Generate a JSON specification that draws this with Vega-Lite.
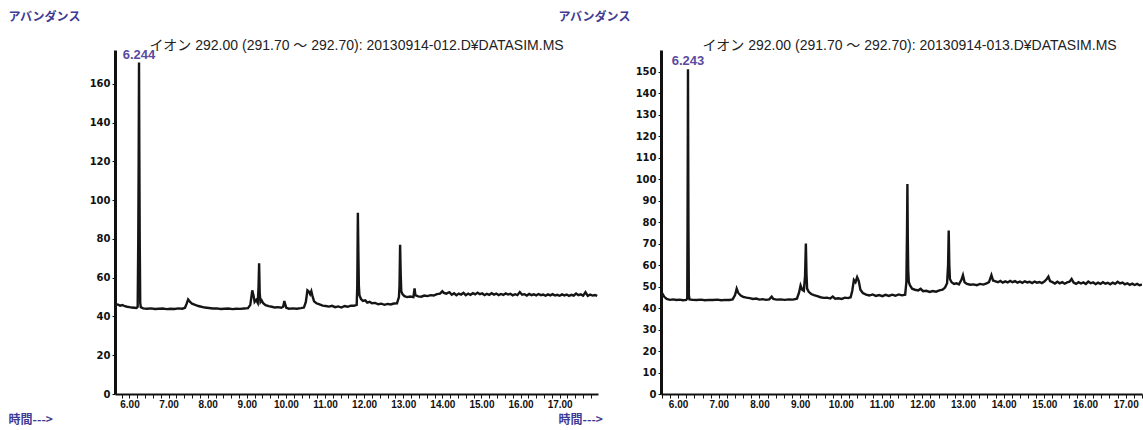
{
  "$schema": "https://vega.github.io/schema/vega-lite/v6.json",
  "padding": {"left": 8, "top": 10, "right": 0, "bottom": 0},
  "bounds": "flush",
  "spacing": 63,
  "background": "white",
  "config": {
    "view": {"stroke": null},
    "font": "Liberation Sans",
    "axis": {
      "grid": false,
      "domainColor": "#111",
      "tickColor": "#111",
      "labelColor": "#111",
      "labelFont": "Liberation Sans",
      "labelFontSize": 10,
      "labelFontWeight": "bold",
      "titleFont": "Noto Sans CJK JP",
      "titleColor": "#3f3a92",
      "titleFontSize": 12,
      "titleFontWeight": "bold"
    },
    "axisY": {"labelFont": "DejaVu Sans", "labelFontSize": 10},
    "title": {
      "font": "'Liberation Sans', 'Noto Sans CJK JP'",
      "fontSize": 14,
      "fontWeight": "normal",
      "color": "#222",
      "offset": -42.5,
      "anchor": "middle",
      "frame": "group"
    }
  },
  "datasets": {
    "left": [
      {"t": 5.64, "v": 45.8}, {"t": 5.70, "v": 46.2}, {"t": 5.76, "v": 45.6}, {"t": 5.82, "v": 45.9},
      {"t": 5.88, "v": 45.3}, {"t": 5.94, "v": 45.0}, {"t": 6.00, "v": 44.8}, {"t": 6.06, "v": 44.6},
      {"t": 6.12, "v": 44.5}, {"t": 6.18, "v": 44.4}, {"t": 6.21, "v": 45.0}, {"t": 6.225, "v": 80},
      {"t": 6.235, "v": 120}, {"t": 6.244, "v": 171}, {"t": 6.252, "v": 125}, {"t": 6.262, "v": 80},
      {"t": 6.275, "v": 47}, {"t": 6.29, "v": 44.8}, {"t": 6.35, "v": 44.2}, {"t": 6.45, "v": 44.0},
      {"t": 6.55, "v": 44.2}, {"t": 6.65, "v": 43.9}, {"t": 6.75, "v": 44.0}, {"t": 6.85, "v": 44.1},
      {"t": 6.95, "v": 43.8}, {"t": 7.05, "v": 44.0}, {"t": 7.15, "v": 43.9}, {"t": 7.25, "v": 44.2},
      {"t": 7.35, "v": 44.0}, {"t": 7.42, "v": 44.5}, {"t": 7.46, "v": 46.5}, {"t": 7.50, "v": 48.8},
      {"t": 7.55, "v": 47.5}, {"t": 7.60, "v": 46.6}, {"t": 7.68, "v": 46.0}, {"t": 7.76, "v": 45.4},
      {"t": 7.84, "v": 45.0}, {"t": 7.93, "v": 44.6}, {"t": 8.03, "v": 44.4}, {"t": 8.13, "v": 44.1},
      {"t": 8.23, "v": 44.2}, {"t": 8.33, "v": 43.9}, {"t": 8.43, "v": 44.0}, {"t": 8.53, "v": 44.1},
      {"t": 8.63, "v": 43.8}, {"t": 8.73, "v": 44.0}, {"t": 8.83, "v": 43.9}, {"t": 8.93, "v": 44.1},
      {"t": 9.03, "v": 44.3}, {"t": 9.09, "v": 46.0}, {"t": 9.14, "v": 53.5}, {"t": 9.17, "v": 51.0},
      {"t": 9.20, "v": 47.5}, {"t": 9.24, "v": 48.5}, {"t": 9.28, "v": 47.0}, {"t": 9.30, "v": 55},
      {"t": 9.315, "v": 67.5}, {"t": 9.33, "v": 52}, {"t": 9.35, "v": 47.5}, {"t": 9.38, "v": 48.3},
      {"t": 9.42, "v": 46.8}, {"t": 9.48, "v": 45.8}, {"t": 9.56, "v": 45.3}, {"t": 9.64, "v": 45.0},
      {"t": 9.72, "v": 44.6}, {"t": 9.80, "v": 44.8}, {"t": 9.88, "v": 44.5}, {"t": 9.93, "v": 45.0},
      {"t": 9.96, "v": 48.0}, {"t": 9.98, "v": 46.5}, {"t": 10.01, "v": 44.5}, {"t": 10.08, "v": 44.0},
      {"t": 10.18, "v": 44.2}, {"t": 10.28, "v": 44.0}, {"t": 10.38, "v": 44.3}, {"t": 10.46, "v": 44.6},
      {"t": 10.51, "v": 47.5}, {"t": 10.55, "v": 53.5}, {"t": 10.59, "v": 52.8}, {"t": 10.62, "v": 51.5},
      {"t": 10.65, "v": 53.0}, {"t": 10.68, "v": 50.5}, {"t": 10.72, "v": 47.8}, {"t": 10.78, "v": 46.8},
      {"t": 10.86, "v": 46.2}, {"t": 10.94, "v": 45.6}, {"t": 11.02, "v": 45.4}, {"t": 11.10, "v": 45.1},
      {"t": 11.18, "v": 45.5}, {"t": 11.26, "v": 44.8}, {"t": 11.34, "v": 45.2}, {"t": 11.42, "v": 44.6},
      {"t": 11.50, "v": 45.4}, {"t": 11.58, "v": 45.0}, {"t": 11.66, "v": 45.6}, {"t": 11.74, "v": 45.5},
      {"t": 11.81, "v": 46.0}, {"t": 11.825, "v": 56}, {"t": 11.84, "v": 93.5}, {"t": 11.855, "v": 70},
      {"t": 11.865, "v": 56}, {"t": 11.88, "v": 51}, {"t": 11.92, "v": 49}, {"t": 11.97, "v": 48},
      {"t": 12.03, "v": 48.3}, {"t": 12.08, "v": 47.2}, {"t": 12.14, "v": 47.6}, {"t": 12.20, "v": 46.8},
      {"t": 12.28, "v": 47.0}, {"t": 12.36, "v": 46.3}, {"t": 12.44, "v": 46.6}, {"t": 12.52, "v": 46.0},
      {"t": 12.60, "v": 46.5}, {"t": 12.68, "v": 46.2}, {"t": 12.76, "v": 46.7}, {"t": 12.84, "v": 46.8},
      {"t": 12.89, "v": 50}, {"t": 12.905, "v": 56}, {"t": 12.92, "v": 77}, {"t": 12.935, "v": 62},
      {"t": 12.95, "v": 53}, {"t": 12.98, "v": 51.5}, {"t": 13.03, "v": 50.5}, {"t": 13.10, "v": 50.0},
      {"t": 13.18, "v": 50.3}, {"t": 13.26, "v": 50.0}, {"t": 13.29, "v": 54.5}, {"t": 13.31, "v": 51.0},
      {"t": 13.38, "v": 50.4}, {"t": 13.46, "v": 50.2}, {"t": 13.54, "v": 50.8}, {"t": 13.62, "v": 50.5},
      {"t": 13.70, "v": 51.0}, {"t": 13.78, "v": 50.8}, {"t": 13.86, "v": 51.5}, {"t": 13.94, "v": 51.8},
      {"t": 14.00, "v": 53.0}, {"t": 14.04, "v": 52.2}, {"t": 14.10, "v": 51.8}, {"t": 14.18, "v": 52.5},
      {"t": 14.24, "v": 51.2}, {"t": 14.30, "v": 52.0}, {"t": 14.36, "v": 51.0}, {"t": 14.42, "v": 51.8},
      {"t": 14.48, "v": 51.3}, {"t": 14.54, "v": 52.2}, {"t": 14.60, "v": 51.0}, {"t": 14.66, "v": 51.8},
      {"t": 14.72, "v": 51.2}, {"t": 14.78, "v": 52.0}, {"t": 14.84, "v": 51.4}, {"t": 14.90, "v": 52.3},
      {"t": 14.96, "v": 51.5}, {"t": 15.02, "v": 51.9}, {"t": 15.08, "v": 51.0}, {"t": 15.14, "v": 51.7},
      {"t": 15.20, "v": 51.2}, {"t": 15.26, "v": 52.0}, {"t": 15.32, "v": 51.3}, {"t": 15.38, "v": 51.8},
      {"t": 15.44, "v": 51.0}, {"t": 15.50, "v": 51.6}, {"t": 15.56, "v": 51.1}, {"t": 15.62, "v": 51.9},
      {"t": 15.68, "v": 51.3}, {"t": 15.74, "v": 51.7}, {"t": 15.80, "v": 50.9}, {"t": 15.86, "v": 51.5},
      {"t": 15.92, "v": 51.0}, {"t": 15.98, "v": 52.6}, {"t": 16.04, "v": 51.2}, {"t": 16.10, "v": 51.5},
      {"t": 16.16, "v": 50.8}, {"t": 16.22, "v": 51.6}, {"t": 16.28, "v": 51.0}, {"t": 16.34, "v": 51.4},
      {"t": 16.40, "v": 50.9}, {"t": 16.46, "v": 51.6}, {"t": 16.52, "v": 51.0}, {"t": 16.58, "v": 51.3},
      {"t": 16.64, "v": 50.7}, {"t": 16.70, "v": 51.4}, {"t": 16.76, "v": 50.9}, {"t": 16.82, "v": 51.5},
      {"t": 16.88, "v": 50.8}, {"t": 16.94, "v": 51.2}, {"t": 17.00, "v": 50.7}, {"t": 17.06, "v": 51.4},
      {"t": 17.12, "v": 50.9}, {"t": 17.18, "v": 51.3}, {"t": 17.24, "v": 50.6}, {"t": 17.30, "v": 51.2},
      {"t": 17.36, "v": 50.8}, {"t": 17.42, "v": 51.8}, {"t": 17.48, "v": 51.0}, {"t": 17.54, "v": 51.4},
      {"t": 17.60, "v": 50.7}, {"t": 17.66, "v": 52.5}, {"t": 17.72, "v": 50.6}, {"t": 17.78, "v": 51.3},
      {"t": 17.84, "v": 50.8}, {"t": 17.90, "v": 51.1}, {"t": 17.96, "v": 50.6}
    ],
    "right": [
      {"t": 5.59, "v": 45.0}, {"t": 5.62, "v": 46.5}, {"t": 5.66, "v": 45.2}, {"t": 5.72, "v": 44.2},
      {"t": 5.80, "v": 43.8}, {"t": 5.88, "v": 44.0}, {"t": 5.96, "v": 43.7}, {"t": 6.04, "v": 43.9},
      {"t": 6.12, "v": 43.6}, {"t": 6.20, "v": 43.8}, {"t": 6.225, "v": 44.5}, {"t": 6.232, "v": 76},
      {"t": 6.238, "v": 113}, {"t": 6.243, "v": 151}, {"t": 6.249, "v": 110}, {"t": 6.255, "v": 76},
      {"t": 6.265, "v": 46}, {"t": 6.28, "v": 44}, {"t": 6.36, "v": 43.8}, {"t": 6.46, "v": 43.7},
      {"t": 6.56, "v": 43.9}, {"t": 6.66, "v": 43.6}, {"t": 6.76, "v": 43.8}, {"t": 6.86, "v": 43.7},
      {"t": 6.96, "v": 43.9}, {"t": 7.06, "v": 43.6}, {"t": 7.16, "v": 43.8}, {"t": 7.26, "v": 43.7},
      {"t": 7.34, "v": 44.0}, {"t": 7.40, "v": 46.0}, {"t": 7.44, "v": 49.0}, {"t": 7.48, "v": 47.0},
      {"t": 7.54, "v": 45.8}, {"t": 7.60, "v": 45.2}, {"t": 7.68, "v": 44.8}, {"t": 7.76, "v": 44.6},
      {"t": 7.84, "v": 44.2}, {"t": 7.92, "v": 44.4}, {"t": 8.00, "v": 43.9}, {"t": 8.08, "v": 44.1},
      {"t": 8.16, "v": 43.8}, {"t": 8.24, "v": 44.0}, {"t": 8.30, "v": 45.3}, {"t": 8.34, "v": 44.2},
      {"t": 8.42, "v": 43.9}, {"t": 8.52, "v": 44.0}, {"t": 8.62, "v": 43.8}, {"t": 8.72, "v": 44.0},
      {"t": 8.82, "v": 43.9}, {"t": 8.92, "v": 44.3}, {"t": 8.97, "v": 47.0}, {"t": 9.01, "v": 50.5},
      {"t": 9.05, "v": 48.5}, {"t": 9.09, "v": 48.0}, {"t": 9.12, "v": 55}, {"t": 9.14, "v": 70},
      {"t": 9.155, "v": 56}, {"t": 9.17, "v": 49}, {"t": 9.21, "v": 47.5}, {"t": 9.27, "v": 46.5},
      {"t": 9.34, "v": 46.0}, {"t": 9.42, "v": 45.5}, {"t": 9.50, "v": 45.0}, {"t": 9.58, "v": 44.7},
      {"t": 9.66, "v": 44.8}, {"t": 9.74, "v": 44.4}, {"t": 9.80, "v": 45.3}, {"t": 9.86, "v": 44.3},
      {"t": 9.94, "v": 44.5}, {"t": 10.02, "v": 44.2}, {"t": 10.10, "v": 44.8}, {"t": 10.18, "v": 44.6},
      {"t": 10.24, "v": 45.0}, {"t": 10.28, "v": 48.0}, {"t": 10.32, "v": 53.0}, {"t": 10.36, "v": 52.0},
      {"t": 10.40, "v": 54.3}, {"t": 10.44, "v": 52.5}, {"t": 10.48, "v": 48.5}, {"t": 10.54, "v": 47.0},
      {"t": 10.62, "v": 46.2}, {"t": 10.70, "v": 45.8}, {"t": 10.78, "v": 46.3}, {"t": 10.86, "v": 45.6},
      {"t": 10.94, "v": 46.0}, {"t": 11.02, "v": 45.5}, {"t": 11.10, "v": 46.1}, {"t": 11.18, "v": 45.6},
      {"t": 11.26, "v": 46.2}, {"t": 11.34, "v": 45.7}, {"t": 11.42, "v": 46.3}, {"t": 11.50, "v": 45.9},
      {"t": 11.58, "v": 46.2}, {"t": 11.61, "v": 52}, {"t": 11.625, "v": 75}, {"t": 11.635, "v": 97.7},
      {"t": 11.645, "v": 72}, {"t": 11.655, "v": 57.7}, {"t": 11.67, "v": 52}, {"t": 11.70, "v": 50.5},
      {"t": 11.75, "v": 49.0}, {"t": 11.82, "v": 48.5}, {"t": 11.90, "v": 48.2}, {"t": 11.96, "v": 48.9},
      {"t": 12.02, "v": 47.8}, {"t": 12.10, "v": 48.0}, {"t": 12.18, "v": 47.5}, {"t": 12.26, "v": 47.9},
      {"t": 12.34, "v": 47.6}, {"t": 12.42, "v": 48.2}, {"t": 12.50, "v": 48.5}, {"t": 12.56, "v": 49.5},
      {"t": 12.61, "v": 51.5}, {"t": 12.635, "v": 60}, {"t": 12.65, "v": 76}, {"t": 12.665, "v": 60},
      {"t": 12.68, "v": 53.5}, {"t": 12.72, "v": 52.0}, {"t": 12.78, "v": 51.2}, {"t": 12.84, "v": 51.5},
      {"t": 12.90, "v": 51.0}, {"t": 12.96, "v": 53.0}, {"t": 13.00, "v": 55.3}, {"t": 13.04, "v": 52.0},
      {"t": 13.10, "v": 51.2}, {"t": 13.18, "v": 50.8}, {"t": 13.26, "v": 51.0}, {"t": 13.34, "v": 50.6},
      {"t": 13.42, "v": 51.2}, {"t": 13.50, "v": 50.9}, {"t": 13.58, "v": 51.5}, {"t": 13.64, "v": 52.0},
      {"t": 13.70, "v": 55.3}, {"t": 13.74, "v": 52.8}, {"t": 13.80, "v": 52.4}, {"t": 13.86, "v": 52.0},
      {"t": 13.92, "v": 52.6}, {"t": 13.98, "v": 51.8}, {"t": 14.04, "v": 52.4}, {"t": 14.10, "v": 51.9},
      {"t": 14.16, "v": 52.6}, {"t": 14.22, "v": 52.0}, {"t": 14.28, "v": 52.5}, {"t": 14.34, "v": 51.8},
      {"t": 14.40, "v": 52.3}, {"t": 14.46, "v": 51.7}, {"t": 14.52, "v": 52.4}, {"t": 14.58, "v": 51.9},
      {"t": 14.64, "v": 52.2}, {"t": 14.70, "v": 51.6}, {"t": 14.76, "v": 52.3}, {"t": 14.82, "v": 51.8},
      {"t": 14.88, "v": 52.1}, {"t": 14.94, "v": 51.6}, {"t": 15.00, "v": 52.3}, {"t": 15.06, "v": 53.5},
      {"t": 15.10, "v": 54.6}, {"t": 15.14, "v": 52.5}, {"t": 15.20, "v": 52.0}, {"t": 15.26, "v": 51.4},
      {"t": 15.32, "v": 52.2}, {"t": 15.38, "v": 51.5}, {"t": 15.44, "v": 52.0}, {"t": 15.50, "v": 51.3},
      {"t": 15.56, "v": 51.9}, {"t": 15.62, "v": 52.2}, {"t": 15.67, "v": 53.5}, {"t": 15.72, "v": 51.8},
      {"t": 15.78, "v": 51.2}, {"t": 15.84, "v": 52.0}, {"t": 15.90, "v": 51.4}, {"t": 15.96, "v": 51.9},
      {"t": 16.02, "v": 51.2}, {"t": 16.08, "v": 52.3}, {"t": 16.14, "v": 51.5}, {"t": 16.20, "v": 51.9},
      {"t": 16.26, "v": 51.1}, {"t": 16.32, "v": 51.8}, {"t": 16.38, "v": 51.2}, {"t": 16.44, "v": 52.0},
      {"t": 16.50, "v": 51.3}, {"t": 16.56, "v": 51.7}, {"t": 16.62, "v": 51.0}, {"t": 16.68, "v": 51.8},
      {"t": 16.74, "v": 51.2}, {"t": 16.80, "v": 52.2}, {"t": 16.86, "v": 51.4}, {"t": 16.92, "v": 51.8},
      {"t": 16.98, "v": 51.0}, {"t": 17.04, "v": 51.5}, {"t": 17.10, "v": 50.8}, {"t": 17.16, "v": 51.3},
      {"t": 17.22, "v": 50.7}, {"t": 17.28, "v": 51.2}, {"t": 17.34, "v": 50.6}, {"t": 17.40, "v": 50.9}
    ]
  },
  "hconcat": [
    {
      "width": 483,
      "height": 344,
      "title": {"text": "イオン 292.00 (291.70 ～ 292.70): 20130914-012.D¥DATASIM.MS", "dx": 0},
      "encoding": {
        "x": {
          "field": "t", "type": "quantitative",
          "scale": {"domain": [5.63, 17.98], "nice": false, "zero": false},
          "axis": {
            "title": "時間--->",
            "values": [5.8, 6, 6.2, 6.4, 6.6, 6.8, 7, 7.2, 7.4, 7.6, 7.8, 8, 8.2, 8.4, 8.6, 8.8, 9, 9.2, 9.4, 9.6, 9.8, 10, 10.2, 10.4, 10.6, 10.8, 11, 11.2, 11.4, 11.6, 11.8, 12, 12.2, 12.4, 12.6, 12.8, 13, 13.2, 13.4, 13.6, 13.8, 14, 14.2, 14.4, 14.6, 14.8, 15, 15.2, 15.4, 15.6, 15.8, 16, 16.2, 16.4, 16.6, 16.8, 17, 17.2, 17.4, 17.6, 17.8],
            "labelExpr": "abs(datum.value - round(datum.value)) < 0.01 ? format(datum.value, '.2f') : ''",
            "labelOverlap": false,
            "labelFlush": false,
            "tickSize": 4,
            "labelPadding": 1,
            "domainWidth": 2,
            "titleAlign": "left",
            "titleBaseline": "middle",
            "titleX": -107,
            "titleY": 25
          }
        },
        "y": {
          "field": "v", "type": "quantitative",
          "scale": {"domain": [0, 177.5], "nice": false},
          "axis": {
            "title": "アバンダンス",
            "values": [0, 20, 40, 60, 80, 100, 120, 140, 160],
            "tickSize": 3,
            "labelPadding": 2,
            "domainWidth": 3,
            "titleAngle": 0,
            "titleAlign": "left",
            "titleBaseline": "middle",
            "titleX": -107,
            "titleY": -34
          }
        }
      },
      "layer": [
        {
          "data": {"name": "left"},
          "mark": {"type": "line", "color": "#151515", "strokeWidth": 2.4, "clip": true}
        },
        {
          "data": {"values": [{"t": 6.244, "v": 171, "label": "6.244"}]},
          "mark": {"type": "text", "align": "center", "baseline": "bottom", "dy": -1, "color": "#5b4a9e", "fontSize": 13, "fontWeight": "bold", "font": "Liberation Sans"},
          "encoding": {"text": {"field": "label"}}
        }
      ]
    },
    {
      "width": 481,
      "height": 344,
      "title": {"text": "イオン 292.00 (291.70 ～ 292.70): 20130914-013.D¥DATASIM.MS", "dx": 8},
      "encoding": {
        "x": {
          "field": "t", "type": "quantitative",
          "scale": {"domain": [5.58, 17.4], "nice": false, "zero": false},
          "axis": {
            "title": "時間--->",
            "values": [5.6, 5.8, 6, 6.2, 6.4, 6.6, 6.8, 7, 7.2, 7.4, 7.6, 7.8, 8, 8.2, 8.4, 8.6, 8.8, 9, 9.2, 9.4, 9.6, 9.8, 10, 10.2, 10.4, 10.6, 10.8, 11, 11.2, 11.4, 11.6, 11.8, 12, 12.2, 12.4, 12.6, 12.8, 13, 13.2, 13.4, 13.6, 13.8, 14, 14.2, 14.4, 14.6, 14.8, 15, 15.2, 15.4, 15.6, 15.8, 16, 16.2, 16.4, 16.6, 16.8, 17, 17.2, 17.4],
            "labelExpr": "abs(datum.value - round(datum.value)) < 0.01 ? format(datum.value, '.2f') : ''",
            "labelOverlap": false,
            "labelFlush": false,
            "tickSize": 4,
            "labelPadding": 1,
            "domainWidth": 2,
            "titleAlign": "left",
            "titleBaseline": "middle",
            "titleX": -103,
            "titleY": 25
          }
        },
        "y": {
          "field": "v", "type": "quantitative",
          "scale": {"domain": [0, 160], "nice": false},
          "axis": {
            "title": "アバンダンス",
            "values": [0, 10, 20, 30, 40, 50, 60, 70, 80, 90, 100, 110, 120, 130, 140, 150],
            "tickSize": 3,
            "labelPadding": 2,
            "domainWidth": 3,
            "titleAngle": 0,
            "titleAlign": "left",
            "titleBaseline": "middle",
            "titleX": -103,
            "titleY": -34
          }
        }
      },
      "layer": [
        {
          "data": {"name": "right"},
          "mark": {"type": "line", "color": "#151515", "strokeWidth": 2.4, "clip": true}
        },
        {
          "data": {"values": [{"t": 6.243, "v": 151, "label": "6.243"}]},
          "mark": {"type": "text", "align": "center", "baseline": "bottom", "dy": -1, "color": "#5b4a9e", "fontSize": 13, "fontWeight": "bold", "font": "Liberation Sans"},
          "encoding": {"text": {"field": "label"}}
        }
      ]
    }
  ]
}
